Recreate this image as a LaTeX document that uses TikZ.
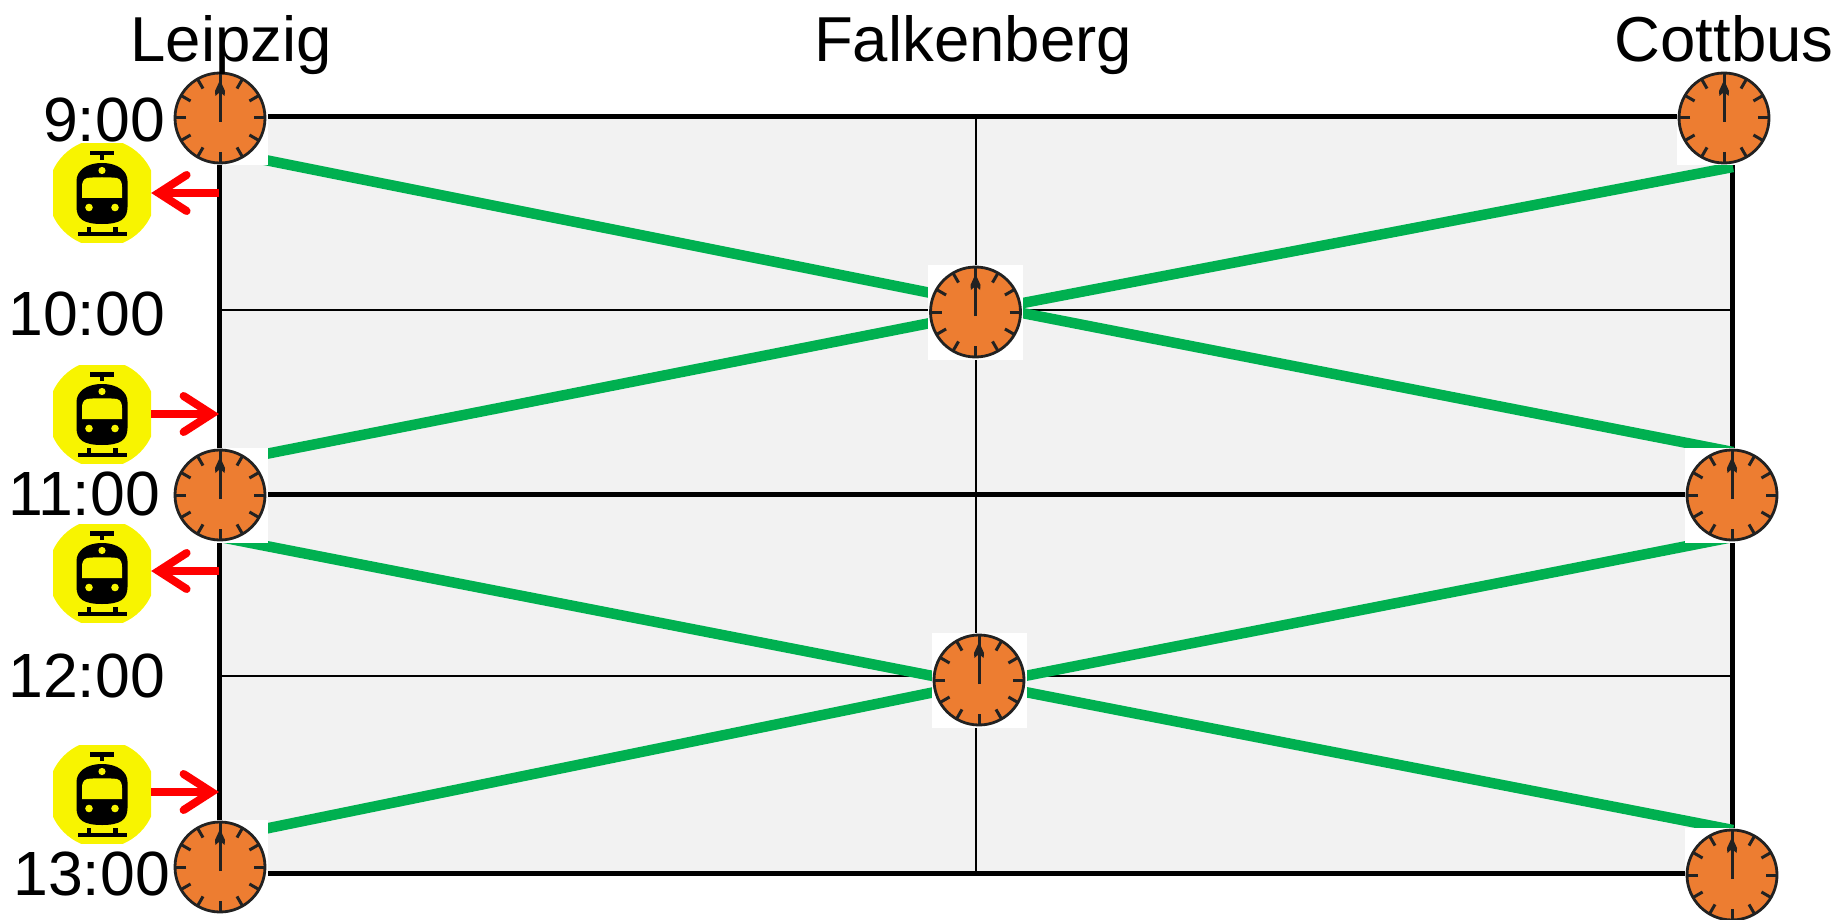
\documentclass[tikz,border=0pt]{standalone}
\usepackage{fontspec}
\setmainfont{Liberation Sans}
\usetikzlibrary{arrows.meta}
\definecolor{clockorange}{HTML}{ED7D31}
\definecolor{clockdark}{HTML}{222222}
\definecolor{trackgreen}{HTML}{00B050}
\definecolor{panelgray}{HTML}{F2F2F2}
\definecolor{iconyellow}{HTML}{F8F400}
\tikzset{
  framerule/.style={line width=5pt,black},
  thinrule/.style={line width=2.6pt,black},
  trackline/.style={line width=10.5pt,trackgreen},
  servicearrow/.style={line width=8pt,red,-{Straight Barb[length=28pt,width=36pt,line cap=round,line width=8pt]},shorten >=0pt},
  lbl/.style={font=\fontsize{63.5}{70}\selectfont,inner sep=0pt,anchor=base,text=black},
  timelbl/.style={font=\fontsize{62.5}{70}\selectfont,inner sep=0pt,anchor=base east,text=black},
  clockbox/.style={fill=white,minimum size=95pt,inner sep=0pt,draw=none,shape=rectangle},
  trainbox/.style={minimum size=98pt,inner sep=0pt,draw=none,shape=rectangle}
}
\newcommand{\clockicon}[3]{%
  \node[clockbox] (#1) at (#2,#3) {};
  \begin{scope}[shift={(#2,#3)}]
    \fill[clockorange] (0,0) circle[radius=45pt];
    \foreach \a in {0,30,...,330}
      \draw[clockdark,line width=3pt] (\a:34pt) -- (\a:45pt);
    \draw[clockdark,line width=2.8pt] (0,0) circle[radius=45pt];
    \draw[clockdark,line width=3pt] (0,4) -- (0,-26);
    \fill[clockdark] (0,-38) -- (5,-27) -- (4.6,-22) -- (0,-26) -- (-4.6,-22) -- (-5,-27) -- cycle;
  \end{scope}}
\newcommand{\trainicon}[3]{%
  \node[trainbox] (#1) at (#2,#3) {};
  \begin{scope}[shift={(#2,#3)}]
    \begin{scope}
      \clip (-49,-49) rectangle (49,49);
      \fill[iconyellow] (0,0) circle[radius=54pt];
    \end{scope}
    \fill[black] (-12,-42) rectangle (12,-37.5);
    \fill[black] (-2,-40) rectangle (2,-33);
    \fill[black] (0,-30) .. controls (16,-30) and (25.5,-22) .. (25.5,-12)
      -- (25.5,14) .. controls (25.5,26) and (18,31) .. (0,31)
      .. controls (-18,31) and (-25.5,26) .. (-25.5,14) -- (-25.5,-12)
      .. controls (-25.5,-22) and (-16,-30) .. (0,-30) -- cycle;
    \fill[iconyellow] (-15,-15) .. controls (-8,-16) and (8,-16) .. (15,-15)
      .. controls (19,-14) and (20,-10) .. (20,-6) -- (20,5) -- (-20,5) -- (-20,-6)
      .. controls (-20,-10) and (-19,-14) .. (-15,-15) -- cycle;
    \fill[iconyellow] (0,-22.5) circle[radius=3.6pt];
    \fill[iconyellow] (-13,14.5) circle[radius=3.8pt];
    \fill[iconyellow] (13,14.5) circle[radius=3.8pt];
    \fill[black] (-24.5,39) rectangle (24.5,43);
    \fill[black] (-15.5,34) rectangle (-11,40);
    \fill[black] (11,34) rectangle (15.5,40);
  \end{scope}}
\begin{document}
\begin{tikzpicture}[x=1pt,y=-1pt]
\useasboundingbox (0,0) rectangle (1838,920);
% panel and grid
\coordinate (nw) at (219.5,117);
\coordinate (ne) at (1732,117);
\coordinate (sw) at (219.5,873);
\coordinate (se) at (1732,873);
\coordinate (ml10) at (219.5,310);
\coordinate (mr10) at (1732,310);
\coordinate (ml11) at (219.5,494);
\coordinate (mr11) at (1732,494);
\coordinate (ml12) at (219.5,676);
\coordinate (mr12) at (1732,676);
\coordinate (ct) at (976,117);
\coordinate (cb) at (976,873);
\fill[panelgray] (nw) rectangle (se);
\draw[thinrule] (ml10) -- (mr10);
\draw[thinrule] (ml12) -- (mr12);
\draw[line width=2pt] (ct) -- (cb);
\draw[framerule] (ml11) -- (mr11);
\draw[framerule,line cap=rect] (nw) -- (ne) -- (se) -- (sw) -- cycle;
% green train paths
\coordinate (a1) at (220,151);   \coordinate (a2) at (976,302);
\coordinate (b1) at (220,463);   \coordinate (b2) at (976,314);
\coordinate (c1) at (976,304);   \coordinate (c2) at (1733,452);
\coordinate (d1) at (976,312);   \coordinate (d2) at (1733,167);
\coordinate (e1) at (220,537);   \coordinate (e2) at (979,685);
\coordinate (f1) at (220,838);   \coordinate (f2) at (979,683);
\coordinate (g1) at (979,683);   \coordinate (g2) at (1733,830);
\coordinate (h1) at (979,685);   \coordinate (h2) at (1733,537);
\foreach \p/\q in {a1/a2,b1/b2,c1/c2,d1/d2,e1/e2,f1/f2,g1/g2,h1/h2}
  \draw[trackline] (\p) -- (\q);
% clocks
\clockicon{cla}{220}{118}
\clockicon{clb}{1724}{118}
\clockicon{clc}{975.5}{312}
\clockicon{cld}{220}{495}
\clockicon{cle}{1732}{495}
\clockicon{clf}{979}{680}
\clockicon{clg}{220}{867}
\clockicon{clh}{1732}{875}
% trains and arrows
\trainicon{tra}{102}{193}
\trainicon{trb}{102}{414}
\trainicon{trc}{102}{573}
\trainicon{trd}{102}{794}
\coordinate (pa) at (219,193);
\coordinate (pb) at (219,414);
\coordinate (pc) at (219,571);
\coordinate (pd) at (219,792);
\draw[servicearrow] (pa) -- (pa -| tra.east);
\draw[servicearrow] (pb -| trb.east) -- (pb);
\draw[servicearrow] (pc) -- (pc -| trc.east);
\draw[servicearrow] (pd -| trd.east) -- (pd);
% labels
\node[lbl] (lleipzig) at (231,62) {Leipzig};
\node[lbl] (lfalk) at (973,62) {Falkenberg};
\node[lbl] (lcott) at (1724,62) {Cottbus};
\node[timelbl] (t9) at (165,142) {9:00};
\node[timelbl] (t10) at (165,335) {10:00};
\node[timelbl] (t11) at (160,515) {11:00};
\node[timelbl] (t12) at (165,697) {12:00};
\node[timelbl] (t13) at (170,895) {13:00};
\end{tikzpicture}
\end{document}
